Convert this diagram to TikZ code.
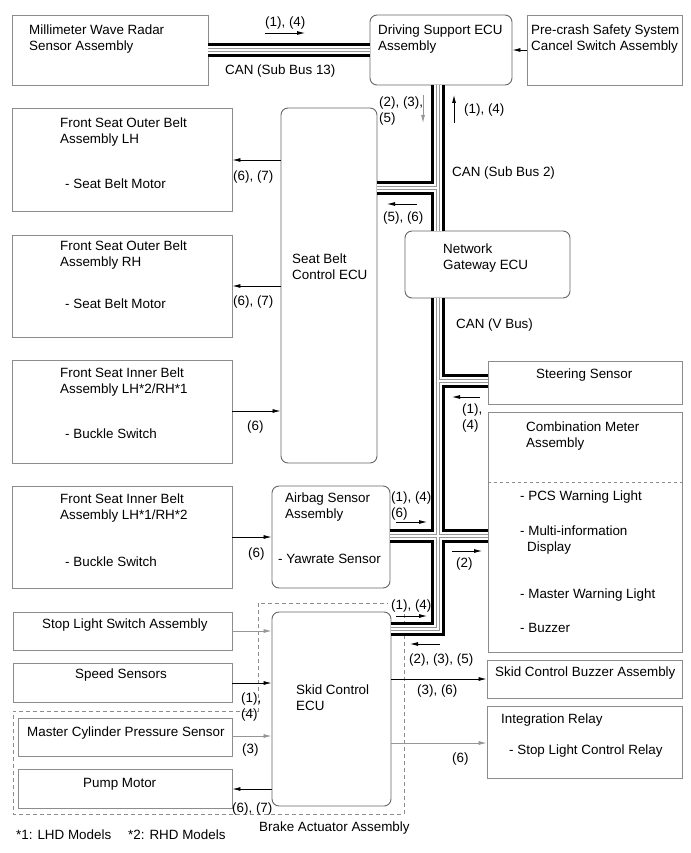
\documentclass[tikz,border=0pt]{standalone}
\usepackage{fontspec}
\setmainfont{Liberation Sans}
\usetikzlibrary{arrows.meta,positioning,fit}
\definecolor{boxline}{RGB}{140,140,140}
\definecolor{siggrey}{RGB}{150,150,150}

% the CAN lines, drawn once per layer
\newcommand\canbus[2]{%
  \draw[line width=#1,#2]
    (mwr.east |- 0,50) -- (dsecu.west |- 0,50)
    (dsecu.south -| vbus) -- (gw.north -| vbus)
    (sbecu.east |- 0,188) -- (vbus |- 0,188)
    (gw.south -| vbus) -- (vbus |- 0,629) -- (skid.east |- 0,629)
    (vbus |- 0,381) -- (steer.west |- 0,381)
    (airbag.east |- 0,536) -- (meter.west |- 0,536);}

\begin{document}
\begin{tikzpicture}[x=1pt,y=-1pt,font=\fontsize{13.4}{16}\selectfont,
    box/.style={draw=boxline,line width=0.9pt,inner sep=0pt},
    ecu/.style={box,draw=black!60,rounded corners=7pt},
    txt/.style={inner sep=0pt,align=left,anchor=base west},
    sig/.style={-{Latex[length=8pt,width=4pt]},line width=0.8pt},
    sigg/.style={sig,draw=siggrey}]
  \useasboundingbox (0,0) rectangle (690,853);
  \coordinate (vbus) at (438,0);

  % boxes
  \node[box,fit={(12,15) (208,85)}] (mwr) {};
  \node[ecu,fit={(370,15) (512,85)}] (dsecu) {};
  \node[box,fit={(527,15) (682,85)}] (pcs) {};
  \node[box,fit={(12,108) (232,211)}] (fslh) {};
  \node[box,fit={(12,235) (232,337)}] (fsrh) {};
  \node[ecu,fit={(281,108) (377,463)}] (sbecu) {};
  \node[box,fit={(12,360) (232,463)}] (filh) {};
  \node[box,fit={(12,486) (232,588)}] (firh) {};
  \node[ecu,fit={(272,486) (390,588)}] (airbag) {};
  \node[ecu,fit={(405,231) (570,298)}] (gw) {};
  \node[box,fit={(488,361) (682,404)}] (steer) {};
  \node[box,fit={(488,412) (682,652)}] (meter) {};
  \node[box,fit={(13,612) (232,650)}] (stop) {};
  \node[box,fit={(13,663) (232,702)}] (speed) {};
  \node[box,fit={(18,718) (232,756)}] (mcps) {};
  \node[box,fit={(18,769) (232,808)}] (pump) {};
  \node[ecu,fit={(272,612) (391,806)}] (skid) {};
  \node[box,fit={(487,660) (682,698)}] (buzz) {};
  \node[box,fit={(487,706) (682,778)}] (relay) {};
  \draw[boxline,dashed] (meter.west |- 0,482) -- (meter.east |- 0,482);
  \draw[boxline,dash pattern=on 4pt off 3pt]
    (404,614) -- (404,814) -- (13,814) -- (13,711) -- (258,711) -- (258,603) -- (388,603);

  % buses
  \foreach \w/\c in {14/black,8/white,4/siggrey,1.5/white}{\canbus{\w}{\c}}

  % box texts (base = last line)
  \node[txt] (t-mwr) at (29,51) {Millimeter Wave Radar\\Sensor Assembly};
  \node[txt] (t-dsecu) at (378,51) {Driving Support ECU\\Assembly};
  \node[txt] (t-pcs) at (531,51) {Pre-crash Safety System\\Cancel Switch Assembly};
  \node[txt] (t-fslh) at (60,144) {Front Seat Outer Belt\\Assembly LH};
  \node[txt] (m-fslh) at (65,188) {- Seat Belt Motor};
  \node[txt] (t-fsrh) at (60,266) {Front Seat Outer Belt\\Assembly RH};
  \node[txt] (m-fsrh) at (65,308) {- Seat Belt Motor};
  \node[txt] (t-sbecu) at (292,279) {Seat Belt\\Control ECU};
  \node[txt] (t-filh) at (60,393) {Front Seat Inner Belt\\Assembly LH*2/RH*1};
  \node[txt] (s-filh) at (65,438) {- Buckle Switch};
  \node[txt] (t-firh) at (60,519) {Front Seat Inner Belt\\Assembly LH*1/RH*2};
  \node[txt] (s-firh) at (65,566) {- Buckle Switch};
  \node[txt] (t-airbag) at (285,518) {Airbag Sensor\\Assembly};
  \node[txt] (y-airbag) at (278,563) {- Yawrate Sensor};
  \node[txt] (t-gw) at (443,269) {Network\\Gateway ECU};
  \node[txt] (t-steer) at (536,378) {Steering Sensor};
  \node[txt] (t-meter) at (526,447) {Combination Meter\\Assembly};
  \node[txt] (i-pcs) at (520,500) {- PCS Warning Light};
  \node[txt] (i-mid) at (520,551) {- Multi-information\\\hspace*{7pt}Display};
  \node[txt] (i-mwl) at (520,598) {- Master Warning Light};
  \node[txt] (i-buzz) at (520,632) {- Buzzer};
  \node[txt] (t-stop) at (42,628) {Stop Light Switch Assembly};
  \node[txt] (t-speed) at (75,678) {Speed Sensors};
  \node[txt] (t-mcps) at (27,736) {Master Cylinder Pressure Sensor};
  \node[txt] (t-pump) at (83,787) {Pump Motor};
  \node[txt] (t-skid) at (296,710) {Skid Control\\ECU};
  \node[txt] (t-buzz) at (495,676) {Skid Control Buzzer Assembly};
  \node[txt] (t-relay) at (501,723) {Integration Relay};
  \node[txt] (r-relay) at (509,754) {- Stop Light Control Relay};

  % bus labels
  \node[txt] (l-can13) at (225,75) {CAN (Sub Bus 13)};
  \node[txt] (l-can2) at (452,176) {CAN (Sub Bus 2)};
  \node[txt] (l-canv) at (456,328) {CAN (V Bus)};

  % signals
  \draw[sig] (pcs.west) -- (dsecu.east);
  \node[txt] (s-mwr) at (265,27) {(1), (4)};
  \draw[sig] (265,33) -- (305,33);
  \node[txt] (s-down) at (379,123) {(2), (3),\\(5)};
  \draw[sigg] (423,95) -- (423,123);
  \draw[sig] (454,123) -- (454,95);
  \node[txt] (s-up) at (464,114) {(1), (4)};
  \node[txt] (s-sb) at (383,221) {(5), (6)};
  \draw[sig] (417,204) -- (387,204);
  \node[txt] (s-steer) at (462,429) {(1),\\(4)};
  \draw[sig] (480,397) -- (452,397);
  \node[txt] (s-airbag) at (391,517) {(1), (4)\\(6)};
  \draw[sig] (396,522) -- (427,522);
  \node[txt] (s-meter) at (456,567) {(2)};
  \draw[sig] (452,551) -- (482,551);
  \node[txt] (s-skidout) at (391,609) {(1), (4)};
  \draw[sig] (396,616) -- (427,616);
  \node[txt] (s-skidin) at (409,663) {(2), (3), (5)};
  \draw[sig] (440,644) -- (410,644);

  \draw[sig] (sbecu.west |- 0,160) -- (fslh.east |- 0,160);
  \node[txt] (s-fslh) at (233,180) {(6), (7)};
  \draw[sig] (sbecu.west |- 0,286) -- (fsrh.east |- 0,286);
  \node[txt] (s-fsrh) at (233,305) {(6), (7)};
  \draw[sig] (filh.east |- 0,411) -- (sbecu.west |- 0,411);
  \node[txt] (s-filh) at (247,430) {(6)};
  \draw[sig] (firh.east |- 0,537) -- (airbag.west |- 0,537);
  \node[txt] (s-firh) at (248,557) {(6)};

  \draw[sigg] (stop.east |- 0,631) -- (skid.west |- 0,631);
  \draw[sig] (speed.east |- 0,683) -- (skid.west |- 0,683);
  \node[txt] (s-speed) at (241,718) {(1),\\(4)};
  \draw[sigg] (mcps.east |- 0,736) -- (skid.west |- 0,736);
  \node[txt] (s-mcps) at (242,753) {(3)};
  \draw[sig] (skid.west |- 0,789) -- (pump.east |- 0,789);
  \node[txt] (s-pump) at (232,812) {(6), (7)};
  \draw[sig] (skid.east |- 0,679) -- (buzz.west |- 0,679);
  \node[txt] (s-buzz) at (417,694) {(3), (6)};
  \draw[sigg] (skid.east |- 0,743) -- (relay.west |- 0,743);
  \node[txt] (s-relay) at (452,762) {(6)};

  % notes
  \node[txt] (n-brake) at (259,831) {Brake Actuator Assembly};
  \node[txt] (n-lhd) at (16,839) {*1: LHD Models};
  \node[txt] (n-rhd) at (128,839) {*2: RHD Models};
\end{tikzpicture}
\end{document}
